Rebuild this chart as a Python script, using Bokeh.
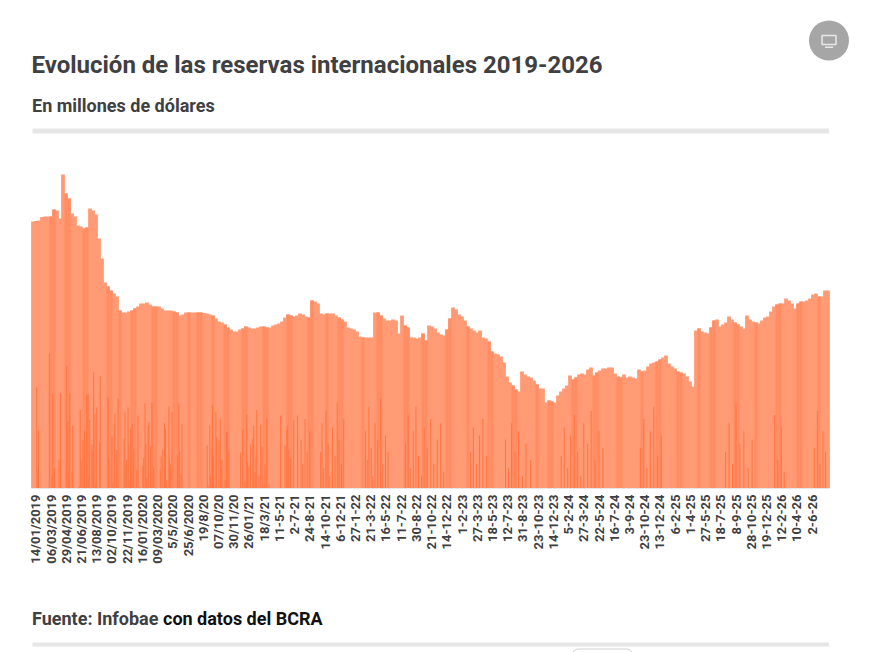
import math
from bokeh.plotting import figure
from bokeh.layouts import column
from bokeh.models import Range1d, FixedTicker
from bokeh.core.properties import value
from bokeh.embed import file_html
from bokeh.resources import INLINE

TITLE = "Evolución de las reservas internacionales 2019-2026"
SUBTITLE = "En millones de dólares"
SOURCE_A = "Fuente: Infobae"
SOURCE_B = "con datos del BCRA"

tick_labels = ["14/01/2019","06/03/2019","29/04/2019","21/06/2019","13/08/2019","02/10/2019","22/11/2019",
 "16/01/2020","09/03/2020","5/5/2020","25/6/2020","19/8/20","07/10/20","30/11/20","26/01/21","18/3/21",
 "11-5-21","2-7-21","24-8-21","14-10-21","6-12-21","27-1-22","21-3-22","16-5-22","11-7-22","30-8-22",
 "21-10-22","14-12-22","1-2-23","27-3-23","18-5-23","12-7-23","31-8-23","23-10-23","14-12-23","5-2-24",
 "27-3-24","22-5-24","16-7-24","3-9-24","23-10-24","13-12-24","6-2-25","1-4-25","27-5-25","18-7-25",
 "8-9-25","28-10-25","19-12-25","12-2-26","10-4-26","2-6-26"]

# Reserves, one reading per equal slice of the series
reserves = [65415,65540,65660,66520,66640,66640,66640,68355,68110,66150,76930,72275,71050,67375,66640,64435,
 64190,63700,63945,68600,68110,67130,61250,56350,50470,49490,48510,47775,47040,43610,43120,43120,43365,43610,
 44100,44590,45325,45325,45570,45080,44590,44590,44590,44100,43610,43610,43610,43365,43120,42385,42630,43120,
 43120,43120,43120,43120,43120,43000,42875,42630,42385,41650,40915,40670,40180,39445,38955,38465,38465,38955,
 39200,39690,39445,39200,39200,39445,39690,39690,39445,39445,39935,40180,40425,40915,41895,42630,42385,42140,
 42385,42875,42630,42140,41895,46060,45815,45325,42875,42630,42875,42875,42875,42385,41895,41405,40915,39445,
 39200,38955,38465,37240,36995,36995,36995,36995,43120,43120,42385,41650,41160,41160,41405,41160,37975,42385,
 39935,39445,36995,36995,36750,36995,37975,36260,39935,39690,39200,38220,37730,37485,38955,41650,44345,43855,
 42630,42140,41160,39690,39200,38710,38220,38710,36995,36750,36015,33565,33075,32830,32340,30870,27440,25970,
 25235,24255,23765,28665,27930,27440,27195,26460,25480,24500,24500,21070,21560,21315,21070,22785,23765,24500,
 25235,27685,26705,27195,27930,28175,27930,29155,29645,27685,28420,28910,29400,29400,29645,29645,28175,27440,
 27195,27930,27195,27440,27195,26950,29155,28665,28910,29890,30625,30870,31115,31605,32095,32585,30625,29890,
 29400,28665,28420,28175,27440,26215,24990,38710,39200,38465,38220,37975,39445,41160,41405,39690,40180,40670,
 42140,41405,40670,40180,39690,39200,42385,41405,40915,40670,40425,41160,41895,42140,43365,44590,45080,45325,
 45325,46550,46060,45325,44100,45325,45815,45815,46060,46550,47530,47775,47040,47040,48510,48510]

# Slices that look a shade darker over their full height
band_slices = [6,7,11,12,17,18,25,26,29,33,34,40,41,47,48,52,55,56,60,64,65,70,71,77,78,85,86,92,93,98,102,103,
 110,115,116,124,125,130,131,138,139,145,152,153,160,161,168,172,173,180,181,187,188,195,196,203,208,209,215,216,
 222,226,227,234,235,241,248,249,255,256,262]

# Dark thin spikes near the base: series day and height
spike_days = [12,16,15,41,47,49,53,63,67,81,84,86,88,93,95,110,112,114,118,122,127,130,132,134,139,141,143,146,148,
 150,157,158,176,178,185,187,190,192,196,199,213,215,217,219,222,224,226,228,231,235,242,245,249,256,258,261,263,
 265,268,270,274,277,281,296,298,302,306,308,310,316,317,320,323,336,339,341,344,346,404,406,410,412,415,416,419,
 424,426,431,434,436,438,445,448,450,454,481,486,491,495,497,500,504,509,511,514,516,518,523,527,530,532,537,541,
 546,573,583,587,589,592,596,603,612,
 620,624,629,634,640,665,668,672,677,682,686,692,698,703,707,713,718,768,772,776,781,785,790,796,803,808,814,820,
 860,866,871,878,884,890,897,903,910,918,925,933,941,948,1010,1016,1023,1030,1038,1046,1090,1097,1104,1112,1120,
 1129,1137,1148,1218,1225,1233,1240,1248,1256,1263,1270,1279,1287,1296,1305,1314,1400,1408,1415,1423,1431,1440,
 1448,1596,1604,1612,1620,1629,1638,1648,1657,1709,1716,1724,1731,1800,1807,1813,1820,1826]
spike_values = [24830,14210,5390,33000,2940,23190,4980,7100,23360,30000,16500,3760,23360,4170,15440,490,19360,6860,
 12000,14210,23030,23190,2940,16900,10780,9070,28500,18290,1310,19930,11350,27520,22210,7430,12820,1310,15680,18290,
 9560,22130,12170,18700,5880,7100,19930,10780,1960,14620,15840,9720,4660,17890,490,5640,7510,20910,10780,2530,15440,
 16250,10370,21070,5230,4820,7840,9560,16010,14620,1960,20090,7100,5880,18700,8330,20910,9070,3430,15840,10540,740,
 15440,2940,9720,20340,7840,18700,12410,11760,17070,5060,7020,2120,13800,13970,9070,8740,14370,1800,18130,6290,5230,
 10780,12170,15440,4000,7840,19270,3190,15600,10290,900,5880,17070,980,17890,10540,14370,15440,9310,7510,16820,17890,
 12000,6000,17000,9000,14000,9000,16000,5000,19000,11000,3000,15000,8000,21000,12000,6000,17000,14000,7000,20000,
 10000,3000,16000,12000,22000,6000,13000,9000,11000,18000,5000,14000,20000,8000,3000,15000,10000,17000,6000,12000,
 16000,4000,9000,15000,6000,13000,17000,8000,12000,5000,16000,9000,14000,3000,11000,7000,8000,15000,5000,13000,18000,
 9000,3000,16000,11000,19000,7000,14000,10000,10000,17000,5000,14000,20000,8000,13000,9000,16000,6000,21000,11000,
 14000,5000,12000,18000,7000,15000,4000,10000,19000,6000,14000,9000]

DAYS = 1835
LABEL_FIRST = 10
LABEL_EVERY = 35
FONT = "Roboto"
BASE = "#FF9A74"
BAND = "#FF8C62"
SPIKE = "#FF7440"
TEXT = "#3F4042"
RULE = "#E6E6E6"

W, H1, H2, H3 = 871, 134, 456, 62


def blank(height):
    f = figure(width=W, height=height, x_range=Range1d(0, W), y_range=Range1d(height, 0),
               output_backend="svg", toolbar_location=None, min_border=0,
               x_axis_location=None, y_axis_location=None)
    f.grid.visible = False
    f.outline_line_color = None
    return f


# Header: y measured from its top edge
head = blank(H1)
head.text([31], [64], text=[TITLE], text_font=value(FONT), text_font_style="bold", text_font_size="24px",
          text_color=TEXT, text_baseline="middle")
head.text([31.5], [104.5], text=[SUBTITLE], text_font=value(FONT), text_font_style="bold", text_font_size="18px",
          text_color=TEXT, text_baseline="middle")
head.quad(left=[32], right=[828.5], top=[128], bottom=[133], fill_color=RULE, line_color=None)
head.scatter([828.5], [40], marker="circle", size=40, fill_color="#A6A6A6", line_color=None)
head.quad(left=[821.5], right=[835.5], top=[35], bottom=[44], fill_color=None, line_color="#E8E8E8", line_width=1.5)
head.quad(left=[824.5], right=[832.5], top=[46], bottom=[47.5], fill_color="#E8E8E8", line_color=None)

# Chart: the frame spans the full page width, the days keep their place through the range
OFFSET = 31
p = figure(width=W, height=H2,
           x_range=Range1d(-OFFSET * DAYS / 798, (W - OFFSET) * DAYS / 798), y_range=Range1d(0, 86730),
           output_backend="svg", toolbar_location=None, y_axis_location=None,
           min_border_left=0, min_border_right=0, min_border_top=0, min_border_bottom=102)
p.grid.visible = False
p.outline_line_color = None
step = DAYS / len(reserves)
xs = [(i + 0.5) * step for i in range(len(reserves))]
p.vbar(x=xs, top=reserves, width=step * 1.25, bottom=0, fill_color=BASE, line_color=None)
p.vbar(x=[xs[i] for i in band_slices], top=[reserves[i] for i in band_slices], width=step, bottom=0,
       fill_color=BAND, line_color=None)
p.vbar(x=spike_days, top=spike_values, width=2.3, bottom=0, fill_color=SPIKE, line_color=None)

ticks = [LABEL_FIRST + LABEL_EVERY * k for k in range(len(tick_labels))]
ax = p.xaxis[0]
ax.ticker = FixedTicker(ticks=ticks)
ax.bounds = (0, DAYS)
ax.major_label_overrides = {t: s for t, s in zip(ticks, tick_labels)}
ax.major_label_orientation = math.pi / 2
ax.major_label_text_font = FONT
ax.major_label_text_font_style = "bold"
ax.major_label_text_font_size = "13px"
ax.major_label_text_color = TEXT
ax.major_label_standoff = 0
ax.major_tick_line_color = None
ax.minor_tick_line_color = None
ax.axis_line_color = RULE

# Footer: y measured from its top edge
foot = blank(H3)
foot.text([31.5], [28], text=[SOURCE_A], text_font=value(FONT), text_font_style="bold", text_font_size="18px",
          text_color=TEXT, text_baseline="middle")
foot.text([162.5], [28], text=[SOURCE_B], text_font=value(FONT), text_font_style="bold", text_font_size="18px",
          text_color="#111111", text_baseline="middle")
foot.quad(left=[32], right=[828.5], top=[52], bottom=[56], fill_color=RULE, line_color=None)
foot.quad(left=[572], right=[632], top=[58.5], bottom=[70], fill_color="#FFFFFF", line_color="#D0D0D0",
          line_width=1, border_radius=6)

page = column(head, p, foot, spacing=0)
open("out.html", "w").write(file_html(page, INLINE))
